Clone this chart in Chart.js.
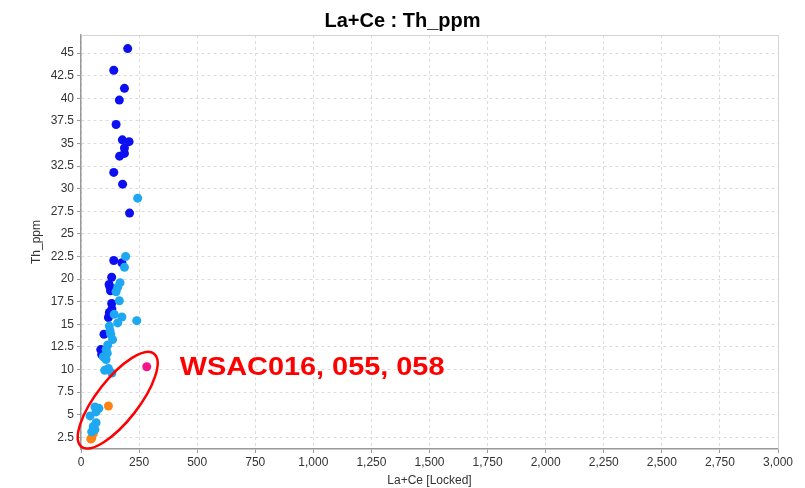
<!DOCTYPE html>
<html>
<head>
<meta charset="utf-8">
<script src="https://cdn.jsdelivr.net/npm/chart.js@4"></script>
<style>
  html, body { margin: 0; padding: 0; background: #fff; }
  #wrap { width: 805px; height: 488px; }
</style>
</head>
<body>
<div id="wrap"><canvas id="scatterChart" width="805" height="488"></canvas></div>
<script>
// values
const darkX = [201, 141, 187, 165, 151, 178, 207, 187, 187, 166, 141, 179, 209, 141, 176, 132, 121, 125, 127, 132, 133, 122, 118, 99, 85, 89];
const darkY = [45.5, 43.1, 41.1, 39.8, 37.1, 35.4, 35.2, 34.5, 33.9, 33.6, 31.8, 30.5, 27.3, 22.05, 21.8, 20.2, 19.4, 19.1, 18.7, 17.3, 16.7, 16.3, 15.75, 13.9, 12.2, 11.65];

const lightX = [244, 192, 187, 168, 158, 151, 165, 143, 176, 158, 240, 122, 125, 128, 136, 115, 108, 96, 113, 108, 102, 118, 133, 60, 77, 65, 39, 65, 53, 60, 46];
const lightY = [28.95, 22.5, 21.3, 19.6, 19.1, 18.6, 17.6, 16.1, 15.8, 15.15, 15.4, 14.8, 14.3, 13.9, 13.3, 12.7, 12.2, 11.4, 11.8, 11.1, 9.9, 10.1, 9.6, 5.85, 5.7, 5.3, 4.86, 4.1, 3.7, 3.35, 3.1];

const orangeX = [118, 53, 46, 42];
const orangeY = [5.96, 2.9, 2.4, 2.3];

const pinkX = [283];
const pinkY = [10.3];

const xTicks = [0, 250, 500, 750, 1000, 1250, 1500, 1750, 2000, 2250, 2500, 2750, 3000];
const yTicks = [2.5, 5, 7.5, 10, 12.5, 15, 17.5, 20, 22.5, 25, 27.5, 30, 32.5, 35, 37.5, 40, 42.5, 45];

const labelText = 'WSAC016, 055, 058';

const FONT = 'Arial, "Liberation Sans", sans-serif';

function pts(xs, ys) {
    return xs.map(function(x, i) { return { x: x, y: ys[i] }; });
}

function makeSet(label, xs, ys, color) {
    return {
        label: label,
        data: pts(xs, ys),
        backgroundColor: color,
        borderColor: color,
        pointRadius: 4.5,
        pointHoverRadius: 4.5,
        borderWidth: 0
    };
}

// empty axis used only to reserve room at a side
function spacer(pos, w) {
    return {
        type: 'linear',
        position: pos,
        weight: 10,
        display: true,
        afterFit: function(s) { s.width = w; },
        ticks: { display: false },
        grid: { display: false, drawTicks: false },
        border: { display: false }
    };
}

// plot frame (top/right) plus the red ring and label
const overlay = {
    id: 'overlay',
    beforeDatasetsDraw(chart) {
        const a = chart.chartArea;
        const c = chart.ctx;
        c.save();
        c.strokeStyle = '#d4d4d4';
        c.lineWidth = 1;
        c.beginPath();
        c.moveTo(a.left, a.top + 0.5);
        c.lineTo(a.right + 0.5, a.top + 0.5);
        c.lineTo(a.right + 0.5, a.bottom);
        c.stroke();
        c.restore();
    },
    afterDatasetsDraw(chart) {
        const c = chart.ctx;
        const xs = chart.scales.x, ys = chart.scales.y;
        c.save();
        c.strokeStyle = '#ff0000';
        c.lineWidth = 2.5;
        c.beginPath();
        c.ellipse(xs.getPixelForValue(158), ys.getPixelForValue(6.6), 59, 21, -52 * Math.PI / 180, 0, Math.PI * 2);
        c.stroke();
        c.fillStyle = '#ff0000';
        c.font = 'bold 26px ' + FONT;
        c.textBaseline = 'alphabetic';
        c.textAlign = 'left';
        c.translate(xs.getPixelForValue(425), ys.getPixelForValue(9.4));
        c.scale(1.11, 1);
        c.fillText(labelText, 0, 0);
        c.restore();
    }
};

document.addEventListener('DOMContentLoaded', function() {
    const ctx = document.getElementById('scatterChart').getContext('2d');
    const axisFont = { family: FONT, size: 12 };

    const config = {
        type: 'scatter',
        data: {
            datasets: [
                makeSet('group A', lightX, lightY, '#1ea8f2'),
                makeSet('group B', darkX, darkY, '#0c10f0'),
                makeSet('group C', orangeX, orangeY, '#ff8213'),
                makeSet('group D', pinkX, pinkY, '#f5158a')
            ]
        },
        options: {
            responsive: false,
            animation: false,
            layout: { padding: 0 },
            plugins: {
                legend: { display: false },
                tooltip: { enabled: false },
                title: {
                    display: true,
                    text: 'La+Ce : Th_ppm',
                    color: '#000',
                    font: { family: FONT, size: 20, weight: 'bold' },
                    padding: { top: 9, bottom: 2 }
                }
            },
            scales: {
                x: {
                    type: 'linear',
                    min: 0,
                    max: 3000,
                    afterFit: function(s) { s.height = 39; },
                    afterBuildTicks: function(s) { s.ticks = xTicks.map(function(v) { return { value: v }; }); },
                    ticks: { color: '#333', font: axisFont, padding: 2, maxRotation: 0, autoSkip: false },
                    grid: { color: '#dcdcdc', tickColor: '#999', tickLength: 4 },
                    border: { color: '#999', width: 1.5, dash: [3, 3] },
                    title: { display: true, text: 'La+Ce [Locked]', color: '#333', font: { family: FONT, size: 12 }, padding: { top: 0, bottom: 0 } }
                },
                y: {
                    type: 'linear',
                    min: 1.2,
                    max: 47,
                    weight: 0,
                    afterFit: function(s) { s.width = 52; },
                    afterBuildTicks: function(s) { s.ticks = yTicks.map(function(v) { return { value: v }; }); },
                    ticks: { color: '#333', font: axisFont, padding: 3, autoSkip: false },
                    grid: { color: '#dcdcdc', tickColor: '#999', tickLength: 4 },
                    border: { color: '#999', width: 1.5, dash: [3, 3] },
                    title: { display: true, text: 'Th_ppm', color: '#333', font: { family: FONT, size: 12 }, padding: { top: 0, bottom: 0 } }
                },
                padLeft: spacer('left', 29),
                padRight: spacer('right', 27)
            }
        },
        plugins: [overlay]
    };

    const scatterChart = new Chart(ctx, config);
});
</script>
</body>
</html>
